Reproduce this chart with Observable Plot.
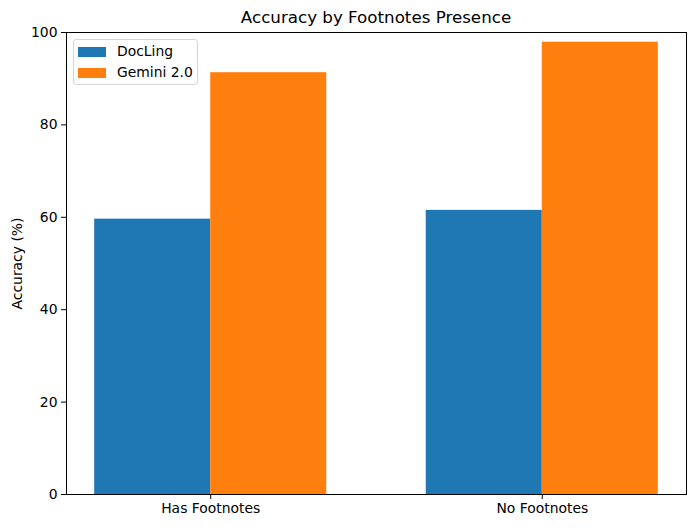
<!DOCTYPE html>
<html><head><meta charset="utf-8">
<script src="https://cdn.jsdelivr.net/npm/d3@7"></script>
<script src="https://cdn.jsdelivr.net/npm/@observablehq/plot@0.6"></script>
<style>
body{margin:0;background:#fff;font-family:"DejaVu Sans",sans-serif;}
#wrap{position:relative;width:695px;height:528px;}
#title{position:absolute;left:66px;width:620px;top:0;height:26px;box-sizing:border-box;padding-top:9px;text-align:center;font-size:16.7px;line-height:16.7px;color:#000;z-index:2;}
#chart{position:absolute;left:0;top:0;}
#legend{position:absolute;left:73px;top:39px;width:125px;height:46px;box-sizing:border-box;border:1px solid #d6d6d6;border-radius:3px;background:rgba(255,255,255,0.8);font-size:13.9px;color:#000;z-index:2;}
.item{position:absolute;left:4px;height:16px;}
.sw{position:absolute;left:0;top:3px;width:28px;height:10px;}
.lb{position:absolute;left:39px;top:-1px;white-space:nowrap;line-height:16px;}
</style>
</head><body>
<div id="wrap">
  <div id="chart"></div>
  <div id="title"></div>
  <div id="legend"></div>
</div>
<script>
const titleText = "Accuracy by Footnotes Presence";
const yLabel = "Accuracy (%)";
const categories = ["Has Footnotes", "No Footnotes"];
const series = ["DocLing", "Gemini 2.0"];
const docling = [59.6, 61.5];
const gemini = [91.3, 97.9];
const colors = ["#1f77b4", "#ff7f0e"];
const yTicks = [0, 20, 40, 60, 80, 100];

const barWidth = 0.35;
const seriesValues = [docling, gemini];
const rows = [];
series.forEach((s, si) => {
  categories.forEach((c, ci) => {
    const center = ci + (si === 0 ? -barWidth / 2 : barWidth / 2);
    rows.push({series: s, category: c, value: seriesValues[si][ci], x1: center - barWidth / 2, x2: center + barWidth / 2});
  });
});

document.getElementById("title").textContent = titleText;

const plot = Plot.plot({
  width: 695,
  height: 528,
  marginTop: 32,
  marginBottom: 34,
  marginLeft: 66,
  marginRight: 9,
  style: {fontFamily: "DejaVu Sans, sans-serif", fontSize: "13.9px", color: "#000", background: "#fff"},
  x: {type: "linear", domain: [-0.435, 1.435]},
  y: {domain: [0, 100]},
  color: {domain: series, range: colors},
  marks: [
    Plot.rectY(rows, {x1: "x1", x2: "x2", y1: 0, y2: "value", fill: "series"}),
    Plot.frame({stroke: "#000", strokeWidth: 1}),
    Plot.axisY({ticks: yTicks, tickSize: 5, tickPadding: 4, tickFormat: d => String(d), label: yLabel, labelAnchor: "center", labelArrow: "none", labelOffset: 54, stroke: "#000"}),
    Plot.axisX({ticks: categories.map((c, i) => i), tickSize: 5, tickPadding: 4, tickFormat: i => categories[i], label: null, stroke: "#000"})
  ]
});
document.getElementById("chart").appendChild(plot);

const legend = document.getElementById("legend");
series.forEach((s, i) => {
  const item = document.createElement("div");
  item.className = "item";
  item.style.top = (4 + i * 21) + "px";
  const sw = document.createElement("div");
  sw.className = "sw";
  sw.style.background = colors[i];
  const lb = document.createElement("div");
  lb.className = "lb";
  lb.textContent = s;
  item.appendChild(sw);
  item.appendChild(lb);
  legend.appendChild(item);
});
</script>
</body></html>
